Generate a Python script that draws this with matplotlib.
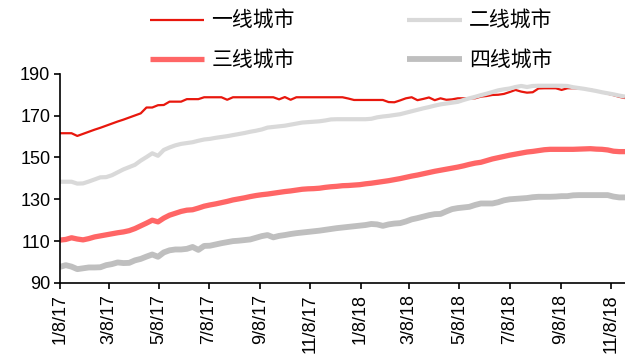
import numpy as np
import pandas as pd
import matplotlib
matplotlib.use('Agg')
import matplotlib.pyplot as plt
import matplotlib.dates as mdates
from matplotlib.ticker import FuncFormatter

plt.rcParams['font.family'] = ['Liberation Sans', 'Noto Sans CJK SC']

# weekly index values, Jan 2017 - Nov 2018
start_date = '2017-01-08'
tier1 = [161.6, 161.6, 161.6, 160.3, 161.3, 162.3, 163.3, 164.2, 165.2, 166.2,
         167.2, 168.1, 169.1, 170.1, 171.1, 173.9, 173.9, 175.0, 175.1, 176.7,
         176.7, 176.7, 177.9, 177.9, 177.9, 178.8, 178.8, 178.8, 178.8, 177.6,
         178.8, 178.8, 178.8, 178.8, 178.8, 178.8, 178.8, 178.8, 177.8, 178.9,
         177.6, 178.8, 178.8, 178.8, 178.8, 178.8, 178.8, 178.8, 178.8, 178.8,
         178.2, 177.5, 177.5, 177.5, 177.5, 177.5, 177.5, 176.5, 176.4, 177.3,
         178.3, 178.8, 177.4, 178.0, 178.7, 177.4, 178.3, 177.6, 177.8, 178.3,
         178.3, 178.3, 178.3, 179.1, 179.4, 179.9, 180.0, 180.4, 181.3, 182.3,
         181.5, 181.0, 181.2, 183.0, 183.1, 183.1, 183.1, 182.3, 183.1, 183.1,
         183.0, 182.8, 182.5, 181.8, 181.2, 180.5, 179.8, 179.0, 178.4]
tier2 = [138.4, 138.4, 138.4, 137.5, 137.6, 138.5, 139.5, 140.5, 140.6, 141.5,
         142.9, 144.3, 145.4, 146.5, 148.5, 150.2, 152.0, 150.8, 153.6, 154.8,
         155.8, 156.5, 156.9, 157.3, 158.0, 158.6, 158.9, 159.4, 159.8, 160.2,
         160.7, 161.2, 161.7, 162.3, 162.8, 163.4, 164.3, 164.6, 164.9, 165.2,
         165.7, 166.2, 166.7, 166.9, 167.1, 167.3, 167.7, 168.2, 168.3, 168.3,
         168.3, 168.3, 168.3, 168.3, 168.5, 169.2, 169.6, 169.9, 170.3, 170.7,
         171.4, 172.1, 172.8, 173.5, 174.1, 174.8, 175.4, 175.8, 176.2, 176.6,
         177.5, 178.3, 179.0, 179.8, 180.5, 181.3, 182.1, 182.6, 183.0, 183.7,
         184.2, 183.7, 184.2, 184.3, 184.3, 184.3, 184.3, 184.3, 184.2, 183.6,
         183.2, 182.8, 182.3, 181.8, 181.2, 180.7, 180.2, 179.6, 179.1]
tier3 = [110.5, 110.8, 111.6, 111.0, 110.6, 111.2, 112.0, 112.5, 113.0, 113.5,
         114.0, 114.4, 115.0, 116.0, 117.3, 118.6, 120.0, 119.2, 121.0, 122.4,
         123.3, 124.2, 124.8, 125.0, 125.8, 126.7, 127.3, 127.8, 128.4, 129.0,
         129.7, 130.2, 130.7, 131.3, 131.8, 132.2, 132.5, 132.9, 133.3, 133.7,
         134.0, 134.4, 134.8, 135.0, 135.1, 135.3, 135.7, 136.0, 136.2, 136.5,
         136.6, 136.8, 137.0, 137.4, 137.7, 138.1, 138.5, 138.9, 139.4, 139.9,
         140.5, 141.1, 141.6, 142.2, 142.8, 143.4, 143.9, 144.4, 144.9, 145.4,
         146.0, 146.7, 147.3, 147.7, 148.5, 149.3, 149.9, 150.5, 151.1, 151.6,
         152.1, 152.6, 152.9, 153.3, 153.7, 153.9, 153.9, 153.9, 153.9, 153.9,
         154.0, 154.1, 154.2, 154.0, 153.9, 153.6, 153.0, 152.8, 152.8]
tier4 = [97.7, 98.5, 97.8, 96.6, 97.0, 97.4, 97.4, 97.5, 98.5, 99.0,
         99.8, 99.5, 99.6, 100.8, 101.5, 102.6, 103.6, 102.5, 104.6, 105.6,
         106.0, 106.0, 106.3, 107.2, 105.8, 107.7, 107.8, 108.4, 109.0, 109.5,
         110.0, 110.2, 110.5, 110.8, 111.6, 112.4, 112.9, 111.8, 112.5, 112.9,
         113.4, 113.8, 114.1, 114.4, 114.7, 115.0, 115.4, 115.8, 116.2, 116.5,
         116.8, 117.1, 117.4, 117.7, 118.2, 118.0, 117.3, 118.0, 118.4, 118.6,
         119.4, 120.4, 121.0, 121.7, 122.4, 122.9, 123.0, 124.2, 125.3, 125.8,
         126.1, 126.4, 127.3, 128.0, 128.0, 128.0, 128.6, 129.5, 130.0, 130.2,
         130.4, 130.6, 131.0, 131.2, 131.2, 131.2, 131.3, 131.5, 131.5, 131.9,
         132.0, 132.0, 132.0, 132.0, 132.0, 132.0, 131.3, 130.9, 130.9]

labels = ['一线城市', '二线城市', '三线城市', '四线城市']
colors = ['#E8170D', '#D9D9D9', '#FF6666', '#BFBFBF']
widths = [1.6, 3.0, 3.8, 4.2]

dates = pd.date_range(start_date, periods=len(tier1), freq='7D')

fig = plt.figure(figsize=(6.25, 3.55), dpi=100)
ax = fig.add_axes([0.096, 0.203, 0.904, 0.589])

lines = {}
for lab, vals, c, w in zip(labels, [tier1, tier2, tier3, tier4], colors, widths):
    lines[lab], = ax.plot(dates, vals, color=c, lw=w, solid_capstyle='butt')

ax.set_ylim(90, 190)
ax.set_yticks(np.arange(90, 191, 20))
ax.set_xlim(dates[0], dates[-1])
ax.xaxis.set_major_locator(mdates.MonthLocator(bymonth=[1, 3, 5, 7, 9, 11], bymonthday=8))
ax.xaxis.set_major_formatter(FuncFormatter(
    lambda x, pos: '{}/{}/{}'.format(mdates.num2date(x).month, mdates.num2date(x).day,
                                     mdates.num2date(x).strftime('%y'))))

for s in ['top', 'right']:
    ax.spines[s].set_visible(False)
for s in ['left', 'bottom']:
    ax.spines[s].set_linewidth(1.2)
ax.tick_params(axis='y', direction='out', length=4, width=1.2, labelsize=13, pad=3)
ax.tick_params(axis='x', direction='out', length=4, width=1.2, labelsize=13,
               labelrotation=90, pad=4)
for t in ax.get_xticklabels():
    t.set_verticalalignment('top')

order = ['一线城市', '三线城市', '二线城市', '四线城市']
fig.legend([lines[k] for k in order], order, ncol=2, loc='upper left',
           bbox_to_anchor=(0.21, 1.0245), frameon=False,
           prop={'family': 'Noto Sans CJK SC', 'size': 15},
           handlelength=2.6, handletextpad=0.35, columnspacing=5.4,
           labelspacing=0.85)

fig.savefig('out.png', dpi=100)
